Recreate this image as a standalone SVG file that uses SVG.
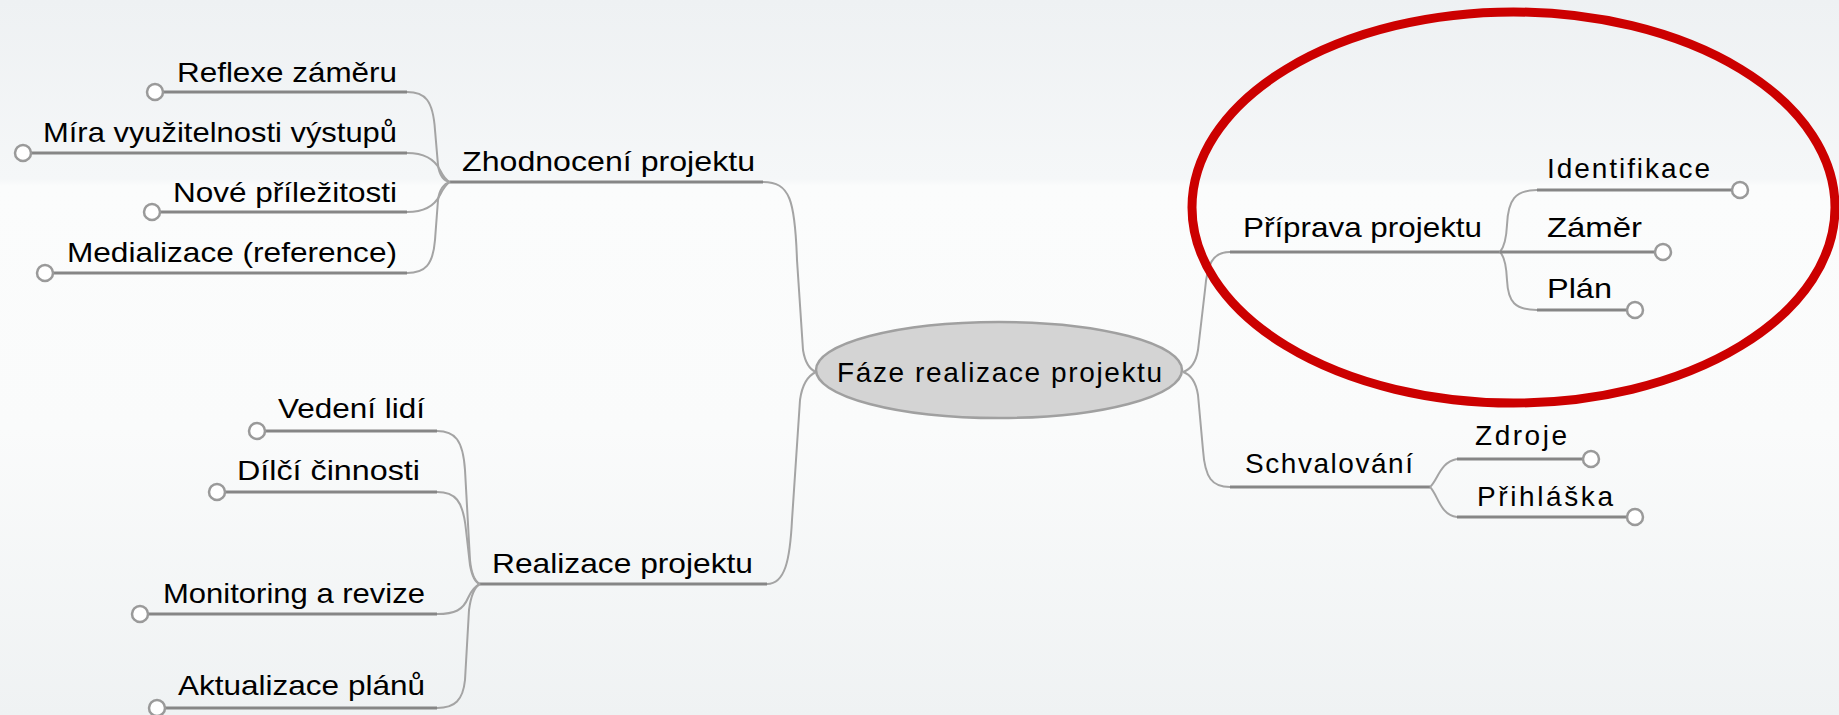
<svg xmlns="http://www.w3.org/2000/svg" width="1839" height="715" viewBox="0 0 1839 715">
<defs>
<linearGradient id="bg" x1="0" y1="0" x2="0" y2="1">
<stop offset="0" stop-color="#eef1f3"/>
<stop offset="0.25" stop-color="#f5f7f8"/>
<stop offset="0.26" stop-color="#fbfcfc"/>
<stop offset="0.6" stop-color="#fafbfb"/>
<stop offset="1" stop-color="#eff2f3"/>
</linearGradient>
<style>
text{font-family:"Liberation Sans",Arial,sans-serif;font-size:28px;fill:#000}
.ul{fill:none;stroke:#868686;stroke-width:3}
.cv{fill:none;stroke:#a4a4a4;stroke-width:2}
.end{fill:#fff;stroke:#9a9a9a;stroke-width:2.5}
</style>
</defs>
<rect width="1839" height="715" fill="url(#bg)"/>
<g id="connectors">
<path class="cv" d="M763,182 C790,182 795,200 797,260 L803,350 Q806,368 816,372"/>
<path class="cv" d="M767,584 C785,584 790,560 792,520 L800,400 Q803,378 816,372"/>
<path class="cv" d="M1230,252 C1212,252 1207,265 1205,290 L1198,350 Q1195,368 1183,372"/>
<path class="cv" d="M1183,372 Q1195,376 1198,395 L1203,450 C1205,478 1212,487 1230,487"/>
<path class="ul" d="M450,182 L763,182"/>
<path class="ul" d="M480,584 L767,584"/>
<path class="ul" d="M1230,252 L1500,252"/>
<path class="ul" d="M1230,487 L1430,487"/>
<path class="cv" d="M407,92 C425,92 433,100 435,130 L438,165 Q440,180 450,182"/>
<path class="cv" d="M407,153 C425,153 435,160 440,170 Q445,180 450,182"/>
<path class="cv" d="M407,212 C425,212 435,205 440,195 Q445,185 450,182"/>
<path class="cv" d="M407,273 C425,273 433,265 435,240 L438,200 Q440,185 450,182"/>
<path class="ul" d="M163,92 L407,92 M31,153 L407,153 M160,212 L407,212 M53,273 L407,273"/>
<path class="cv" d="M437,431 C455,431 463,440 465,470 L470,560 Q472,580 480,584"/>
<path class="cv" d="M437,492 C455,492 463,500 466,530 L470,565 Q473,582 480,584"/>
<path class="cv" d="M437,614 C455,614 463,610 468,598 Q473,587 480,584"/>
<path class="cv" d="M437,708 C455,708 463,700 465,680 L469,610 Q472,588 480,584"/>
<path class="ul" d="M265,431 L437,431 M225,492 L437,492 M148,614 L437,614 M165,708 L437,708"/>
<path class="cv" d="M1500,252 Q1506,245 1507,225 C1508,200 1515,190 1537,190"/>
<path class="cv" d="M1500,252 Q1506,258 1507,280 C1508,302 1515,310 1537,310"/>
<path class="ul" d="M1537,190 L1732,190 M1500,252 L1655,252 M1537,310 L1627,310"/>
<path class="cv" d="M1430,487 C1438,480 1440,462 1457,459"/>
<path class="cv" d="M1430,487 C1438,495 1440,515 1457,517"/>
<path class="ul" d="M1457,459 L1583,459 M1457,517 L1627,517"/>
</g>
<g id="n-center">
<ellipse cx="999" cy="370" rx="183" ry="48" fill="#d4d4d4" stroke="#a0a0a0" stroke-width="2.5"/>
<text x="837" y="382" textLength="325" font-size="29">Fáze realizace projektu</text>
</g>
<g id="n-zhodnoceni"><text x="462" y="171" textLength="293" lengthAdjust="spacingAndGlyphs">Zhodnocení projektu</text></g>
<g id="n-reflexe"><circle class="end" cx="155" cy="92" r="8"/><text x="177" y="82" textLength="220" lengthAdjust="spacingAndGlyphs">Reflexe záměru</text></g>
<g id="n-mira"><circle class="end" cx="23" cy="153" r="8"/><text x="43" y="142" textLength="354" lengthAdjust="spacingAndGlyphs">Míra využitelnosti výstupů</text></g>
<g id="n-nove"><circle class="end" cx="152" cy="212" r="8"/><text x="173" y="202" textLength="224" lengthAdjust="spacingAndGlyphs">Nové příležitosti</text></g>
<g id="n-medializace"><circle class="end" cx="45" cy="273" r="8"/><text x="67" y="262" textLength="330" lengthAdjust="spacingAndGlyphs">Medializace (reference)</text></g>
<g id="n-realizace"><text x="492" y="573" textLength="261" lengthAdjust="spacingAndGlyphs">Realizace projektu</text></g>
<g id="n-vedeni"><circle class="end" cx="257" cy="431" r="8"/><text x="278" y="418" textLength="147" lengthAdjust="spacingAndGlyphs">Vedení lidí</text></g>
<g id="n-dilci"><circle class="end" cx="217" cy="492" r="8"/><text x="237" y="480" textLength="183" lengthAdjust="spacingAndGlyphs">Dílčí činnosti</text></g>
<g id="n-monitoring"><circle class="end" cx="140" cy="614" r="8"/><text x="163" y="603" textLength="262" lengthAdjust="spacingAndGlyphs">Monitoring a revize</text></g>
<g id="n-aktualizace"><circle class="end" cx="157" cy="708" r="8"/><text x="178" y="695" textLength="247" lengthAdjust="spacingAndGlyphs">Aktualizace plánů</text></g>
<g id="n-priprava"><text x="1243" y="237" textLength="239" lengthAdjust="spacingAndGlyphs">Příprava projektu</text></g>
<g id="n-identifikace"><circle class="end" cx="1740" cy="190" r="8"/><text x="1547" y="178" textLength="163">Identifikace</text></g>
<g id="n-zamer"><circle class="end" cx="1663" cy="252" r="8"/><text x="1547" y="237" textLength="95" lengthAdjust="spacingAndGlyphs">Záměr</text></g>
<g id="n-plan"><circle class="end" cx="1635" cy="310" r="8"/><text x="1547" y="298" textLength="65" lengthAdjust="spacingAndGlyphs">Plán</text></g>
<g id="n-schvalovani"><text x="1245" y="473" textLength="168">Schvalování</text></g>
<g id="n-zdroje"><circle class="end" cx="1591" cy="459" r="8"/><text x="1475" y="445" textLength="92" font-size="30">Zdroje</text></g>
<g id="n-prihlaska"><circle class="end" cx="1635" cy="517" r="8"/><text x="1477" y="506" textLength="136">Přihláška</text></g>
<g id="highlight">
<ellipse cx="1513.5" cy="207.5" rx="321.5" ry="195.5" fill="none" stroke="#cc0000" stroke-width="9"/>
</g>
</svg>
